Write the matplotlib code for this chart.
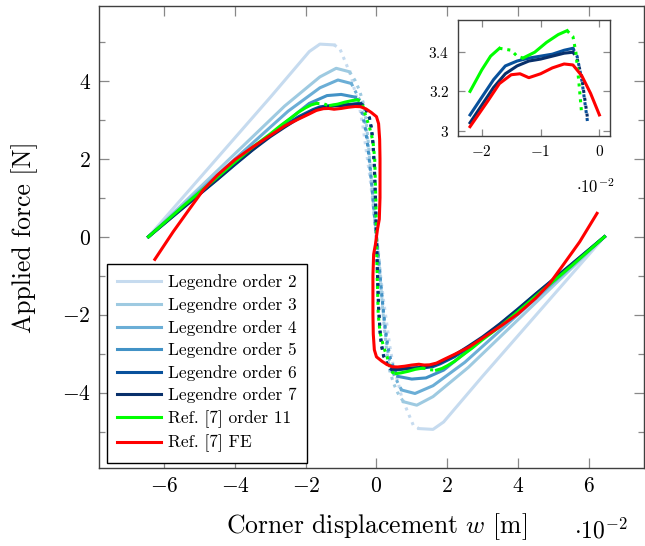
import numpy as np
import matplotlib.pyplot as plt

plt.rcParams['font.family'] = 'serif'
plt.rcParams['font.serif'] = ['cmr10']
plt.rcParams['mathtext.fontset'] = 'cm'
plt.rcParams['axes.formatter.use_mathtext'] = True

# corner displacement w in units of 1e-2 m, applied force F in N
# each curve: upper stable branch, unstable branch (dotted), lower stable branch

# Legendre order 2
w2_up = [-6.45, -3.0, -1.9, -1.6, -1.2]
F2_up = [0.0, 3.58, 4.75, 4.94, 4.92]
w2_un = [-1.2, -1.04, -0.86, -0.71, -0.62, -0.48, -0.38, -0.29, -0.2, -0.12, -0.05,
         0.05, 0.12, 0.2, 0.29, 0.38, 0.48, 0.62, 0.71, 0.86, 1.04, 1.2]
F2_un = [4.92, 4.83, 4.44, 4.1, 3.76, 3.33, 2.82, 2.22, 1.63, 1.03, 0.34,
         -0.34, -1.03, -1.63, -2.22, -2.82, -3.33, -3.76, -4.1, -4.44, -4.83, -4.92]
w2_lo = [1.2, 1.6, 1.9, 3.0, 6.45]
F2_lo = [-4.92, -4.94, -4.75, -3.58, 0.0]

# Legendre order 3
w3_up = [-6.45, -2.6, -1.6, -1.14, -0.76]
F3_up = [0.0, 3.35, 4.1, 4.32, 4.23]
w3_un = [-0.76, -0.6, -0.48, -0.38, -0.3, -0.24, -0.18, -0.12, -0.06,
         0.06, 0.12, 0.18, 0.24, 0.3, 0.38, 0.48, 0.6, 0.76]
F3_un = [4.23, 4.0, 3.75, 3.45, 3.0, 2.5, 1.9, 1.2, 0.5,
         -0.5, -1.2, -1.9, -2.5, -3.0, -3.45, -3.75, -4.0, -4.23]
w3_lo = [0.76, 1.14, 1.6, 2.6, 6.45]
F3_lo = [-4.23, -4.32, -4.1, -3.35, 0.0]

# Legendre order 4
w4_up = [-6.45, -2.5, -1.6, -1.09, -0.71]
F4_up = [0.0, 3.22, 3.82, 4.02, 3.93]
w4_un = [-0.71, -0.58, -0.45, -0.35, -0.27, -0.2, -0.14, -0.08, -0.03,
         0.03, 0.08, 0.14, 0.2, 0.27, 0.35, 0.45, 0.58, 0.71]
F4_un = [3.93, 3.7, 3.45, 3.1, 2.6, 2.0, 1.4, 0.8, 0.3,
         -0.3, -0.8, -1.4, -2.0, -2.6, -3.1, -3.45, -3.7, -3.93]
w4_lo = [0.71, 1.09, 1.6, 2.5, 6.45]
F4_lo = [-3.93, -4.02, -3.82, -3.22, 0.0]

# Legendre order 5
w5_up = [-6.45, -2.55, -1.9, -1.4, -1.0, -0.6]
F5_up = [0.0, 2.95, 3.42, 3.62, 3.65, 3.58]
w5_un = [-0.6, -0.5, -0.4, -0.32, -0.25, -0.19, -0.13, -0.08, -0.03,
         0.03, 0.08, 0.13, 0.19, 0.25, 0.32, 0.4, 0.5, 0.6]
F5_un = [3.58, 3.4, 3.15, 2.8, 2.35, 1.85, 1.3, 0.75, 0.25,
         -0.25, -0.75, -1.3, -1.85, -2.35, -2.8, -3.15, -3.4, -3.58]
w5_lo = [0.6, 1.0, 1.4, 1.9, 2.55, 6.45]
F5_lo = [-3.58, -3.65, -3.62, -3.42, -2.95, 0.0]

# Legendre order 6
w6_up = [-6.45, -5.5, -4.9, -4.5, -4.0, -3.5, -3.0, -2.6, -2.2, -2.0, -1.8, -1.6, -1.4, -1.2, -1.0, -0.8, -0.6, -0.45]
F6_up = [0.0, 0.74, 1.2, 1.5, 1.89, 2.26, 2.6, 2.85, 3.08, 3.17, 3.26, 3.33, 3.355, 3.37, 3.38, 3.39, 3.41, 3.42]
w6_un = [-0.45, -0.38, -0.3, -0.2, -0.14, -0.1, -0.06, -0.03, 0.0,
         0.03, 0.06, 0.1, 0.14, 0.2, 0.3, 0.38, 0.45]
F6_un = [3.42, 3.38, 3.26, 3.04, 2.75, 2.4, 1.8, 1.0, 0.0,
         -1.0, -1.8, -2.4, -2.75, -3.04, -3.26, -3.38, -3.42]
w6_lo = [0.45, 0.6, 0.8, 1.0, 1.2, 1.4, 1.6, 1.8, 2.0, 2.2, 2.6, 3.0, 3.5, 4.0, 4.5, 4.9, 5.5, 6.45]
F6_lo = [-3.42, -3.41, -3.39, -3.38, -3.37, -3.355, -3.33, -3.26, -3.17, -3.08, -2.85, -2.6, -2.26, -1.89, -1.5, -1.2, -0.74, 0.0]

# Legendre order 7
w7_up = [-6.45, -5.5, -4.9, -4.5, -4.0, -3.5, -3.0, -2.6, -2.2, -2.0, -1.8, -1.6, -1.4, -1.2, -1.0, -0.8, -0.6, -0.45]
F7_up = [0.0, 0.72, 1.17, 1.47, 1.86, 2.23, 2.57, 2.81, 3.04, 3.13, 3.22, 3.29, 3.33, 3.355, 3.365, 3.38, 3.395, 3.40]
w7_un = [-0.45, -0.38, -0.3, -0.2, -0.14, -0.1, -0.06, -0.03, 0.0,
         0.03, 0.06, 0.1, 0.14, 0.2, 0.3, 0.38, 0.45]
F7_un = [3.40, 3.37, 3.27, 3.06, 2.78, 2.42, 1.82, 1.0, 0.0,
         -1.0, -1.82, -2.42, -2.78, -3.06, -3.27, -3.37, -3.40]
w7_lo = [0.45, 0.6, 0.8, 1.0, 1.2, 1.4, 1.6, 1.8, 2.0, 2.2, 2.6, 3.0, 3.5, 4.0, 4.5, 4.9, 5.5, 6.45]
F7_lo = [-3.40, -3.395, -3.38, -3.365, -3.355, -3.33, -3.29, -3.22, -3.13, -3.04, -2.81, -2.57, -2.23, -1.86, -1.47, -1.17, -0.72, 0.0]

# Ref. [7] order 11
wg_upA = [-6.45, -5.5, -4.9, -4.5, -4.0, -3.5, -3.0, -2.7, -2.4, -2.2, -2.0, -1.85, -1.7]
Fg_upA = [0.0, 0.76, 1.22, 1.53, 1.92, 2.3, 2.64, 2.86, 3.06, 3.2, 3.31, 3.38, 3.42]
wg_gapU = [-1.7, -1.5, -1.4, -1.3]
Fg_gapU = [3.42, 3.41, 3.38, 3.37]
wg_upB = [-1.3, -1.1, -0.9, -0.7, -0.55]
Fg_upB = [3.37, 3.4, 3.45, 3.49, 3.51]
wg_un = [-0.55, -0.45, -0.4, -0.35, -0.3, -0.2, -0.1, -0.05, -0.02,
         0.02, 0.05, 0.1, 0.2, 0.3, 0.35, 0.4, 0.45, 0.55]
Fg_un = [3.51, 3.48, 3.4, 3.25, 3.08, 2.82, 2.45, 2.0, 1.0,
         -1.0, -2.0, -2.45, -2.82, -3.08, -3.25, -3.4, -3.48, -3.51]
wg_loB = [0.55, 0.7, 0.9, 1.1, 1.3]
Fg_loB = [-3.51, -3.49, -3.45, -3.4, -3.37]
wg_gapL = [1.3, 1.4, 1.5, 1.7]
Fg_gapL = [-3.37, -3.38, -3.41, -3.42]
wg_loA = [1.7, 1.85, 2.0, 2.2, 2.4, 2.7, 3.0, 3.5, 4.0, 4.5, 4.9, 5.5, 6.45]
Fg_loA = [-3.42, -3.38, -3.31, -3.2, -3.06, -2.86, -2.64, -2.3, -1.92, -1.53, -1.22, -0.76, 0.0]

# Ref. [7] FE
w_fe = [-6.27, -5.75, -5.3, -4.9, -4.5, -4.0, -3.5, -3.0, -2.6, -2.2, -1.9, -1.7, -1.5, -1.35,
        -1.2, -1.0, -0.8, -0.6, -0.45, -0.3, -0.15, 0.0, 0.06, 0.09, 0.1, 0.1, 0.08, 0.03,
        -0.03, -0.08, -0.1, -0.1, -0.09, -0.06, 0.0, 0.15, 0.3, 0.45, 0.6, 0.8, 1.0, 1.2,
        1.35, 1.5, 1.7, 1.9, 2.2, 2.6, 3.0, 3.5, 4.0, 4.5, 4.9, 5.3, 5.75, 6.24]
F_fe = [-0.58, 0.13, 0.7, 1.2, 1.58, 1.98, 2.3, 2.6, 2.84, 3.02, 3.15, 3.24, 3.285, 3.29,
        3.27, 3.29, 3.32, 3.34, 3.335, 3.28, 3.19, 3.08, 2.9, 2.5, 2.0, 1.0, 0.45, 0.2,
        -0.2, -0.45, -1.0, -2.0, -2.5, -2.9, -3.08, -3.19, -3.28, -3.335, -3.34, -3.32, -3.29, -3.27,
        -3.29, -3.285, -3.24, -3.15, -3.02, -2.84, -2.6, -2.3, -1.98, -1.58, -1.2, -0.7, -0.13, 0.6]

labels = ['Legendre order 2', 'Legendre order 3', 'Legendre order 4', 'Legendre order 5',
          'Legendre order 6', 'Legendre order 7', 'Ref. [7] order 11', 'Ref. [7] FE']
colors = ['#c6dbef', '#9ecae1', '#6baed6', '#4292c6', '#08519c', '#08306b', '#00ff00', '#ff0000']

curves = [
    [(w2_up, F2_up, True), (w2_un, F2_un, False), (w2_lo, F2_lo, True)],
    [(w3_up, F3_up, True), (w3_un, F3_un, False), (w3_lo, F3_lo, True)],
    [(w4_up, F4_up, True), (w4_un, F4_un, False), (w4_lo, F4_lo, True)],
    [(w5_up, F5_up, True), (w5_un, F5_un, False), (w5_lo, F5_lo, True)],
    [(w6_up, F6_up, True), (w6_un, F6_un, False), (w6_lo, F6_lo, True)],
    [(w7_up, F7_up, True), (w7_un, F7_un, False), (w7_lo, F7_lo, True)],
    [(wg_upA, Fg_upA, True), (wg_gapU, Fg_gapU, False), (wg_upB, Fg_upB, True),
     (wg_un, Fg_un, False), (wg_loB, Fg_loB, True), (wg_gapL, Fg_gapL, False),
     (wg_loA, Fg_loA, True)],
    [(w_fe, F_fe, True)],
]
# only the converged models are repeated in the inset
inset_ids = [4, 5, 6, 7]

LW = 2.2
DOTS = (0, (1, 1.6))


def draw(axis, segs, color, label=None, inset=False):
    for i, (w, F, solid) in enumerate(segs):
        w = np.asarray(w)
        F = np.asarray(F)
        if inset:
            keep = (w >= -2.2) & (w <= 0.0) & (F >= 3.0)
            w, F = w[keep], F[keep]
        axis.plot(w, F, color=color, lw=LW, ls='-' if solid else DOTS,
                  label=label if i == 0 else None)


def style(axis, size, major, minor):
    for s in axis.spines.values():
        s.set_color('#404040')
        s.set_linewidth(1.0)
    axis.tick_params(which='both', direction='in', top=True, right=True,
                     color='#888888', width=0.9, labelsize=size, pad=6)
    axis.tick_params(which='major', length=major)
    axis.tick_params(which='minor', length=minor)


fig = plt.figure(figsize=(6.45, 5.46), dpi=100)
ax = fig.add_axes([0.1535, 0.1429, 0.845, 0.847])

for segs, c, lab in zip(curves, colors, labels):
    draw(ax, segs, c, lab)

ax.set_xlim(-7.85, 7.57)
ax.set_ylim(-5.93, 5.93)
ax.set_xticks([-6, -4, -2, 0, 2, 4, 6])
ax.set_yticks([-4, -2, 0, 2, 4])
ax.set_yticks([-5, -3, -1, 1, 3, 5], minor=True)
style(ax, 15.5, 7, 4)

ax.set_xlabel(r'Corner displacement $w$ [m]', fontsize=18.5)
ax.set_ylabel('Applied force [N]', fontsize=18.5)
ax.xaxis.set_label_coords(0.51, -0.093)
ax.yaxis.set_label_coords(-0.112, 0.5)
ax.text(0.92, -0.135, r'$\cdot 10^{-2}$', transform=ax.transAxes,
        ha='center', va='center', fontsize=17)

leg = ax.legend(loc='lower left', bbox_to_anchor=(0.0147, 0.011), borderaxespad=0,
                fancybox=False, edgecolor='black', framealpha=1, fontsize=12.5,
                handlelength=2.53, labelspacing=0.39, handletextpad=0.4, borderpad=0.6)
leg.get_frame().set_linewidth(1.0)

# zoomed inset around the upper limit point
ins = fig.add_axes([0.7096, 0.7515, 0.2361, 0.2110])
for k in inset_ids:
    draw(ins, curves[k], colors[k], inset=True)
ins.set_xlim(-2.41, 0.18)
ins.set_ylim(2.974, 3.562)
ins.set_xticks([-2, -1, 0])
ins.set_yticks([3.0, 3.2, 3.4])
ins.set_yticklabels(['$3$', '$3.2$', '$3.4$'])
style(ins, 11, 5, 3)
ins.text(0.9, -0.445, r'$\cdot 10^{-2}$', transform=ins.transAxes,
         ha='center', va='center', fontsize=12)

fig.savefig('out.png', dpi=100)
